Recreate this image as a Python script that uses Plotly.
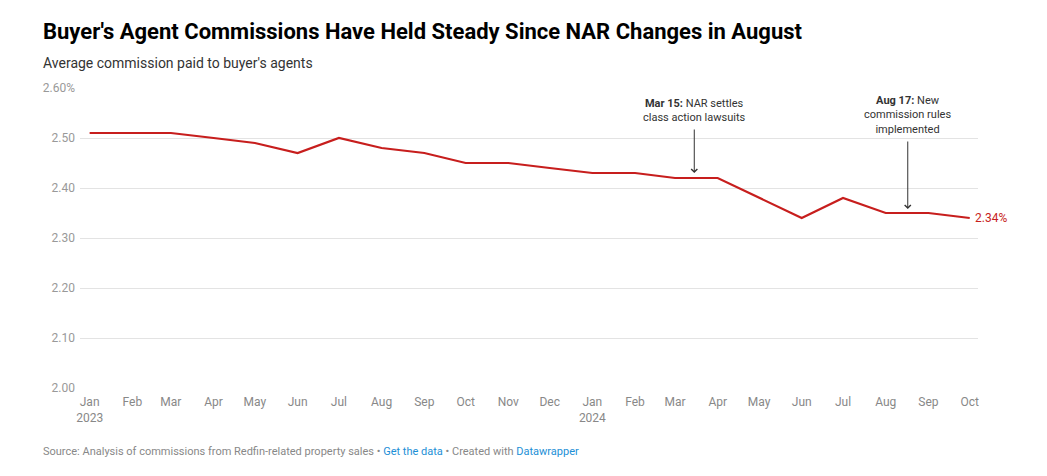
import plotly.graph_objects as go

months = ["2023-01-01","2023-02-01","2023-03-01","2023-04-01","2023-05-01","2023-06-01",
          "2023-07-01","2023-08-01","2023-09-01","2023-10-01","2023-11-01","2023-12-01",
          "2024-01-01","2024-02-01","2024-03-01","2024-04-01","2024-05-01","2024-06-01",
          "2024-07-01","2024-08-01","2024-09-01","2024-10-01"]
commission = [2.51, 2.51, 2.51, 2.50, 2.49, 2.47, 2.50, 2.48, 2.47, 2.45, 2.45, 2.44,
              2.43, 2.43, 2.42, 2.42, 2.38, 2.34, 2.38, 2.35, 2.35, 2.34]
tick_labels = ["Jan<br>2023","Feb","Mar","Apr","May","Jun","Jul","Aug","Sep","Oct","Nov","Dec",
               "Jan<br>2024","Feb","Mar","Apr","May","Jun","Jul","Aug","Sep","Oct"]
y_ticks = [2.00, 2.10, 2.20, 2.30, 2.40, 2.50, 2.60]
y_tick_text = ["2.00", "2.10", "2.20", "2.30", "2.40", "2.50", "2.60%"]

RED = "#c71e1d"
FONT = "Roboto"

fig = go.Figure()
fig.add_trace(go.Scatter(x=months, y=commission, mode="lines",
                         line=dict(color=RED, width=2.2), hoverinfo="x+y", showlegend=False))

OFF = 8  # browser body margin
W, H = 1047 - OFF, 476 - OFF
L, T = 80 - OFF, 88 - OFF
R = OFF + W - 978
B = OFF + H - 388
pw = W - L - R
ph = H - T - B

def px_x(px):
    return (px - OFF - L) / pw

def px_y(py):
    return (OFF + H - B - py) / ph

annotations = [
    dict(text="<b>Buyer's Agent Commissions Have Held Steady Since NAR Changes in August</b>",
         xref="paper", yref="paper", x=px_x(41), y=px_y(31), xanchor="left", yanchor="middle",
         showarrow=False, font=dict(family=FONT, size=22, color="#000")),
    dict(text="Average commission paid to buyer's agents",
         xref="paper", yref="paper", x=px_x(41), y=px_y(63), xanchor="left", yanchor="middle",
         showarrow=False, font=dict(family=FONT, size=14, color="#333")),
    dict(text="Source: Analysis of commissions from Redfin-related property sales \u2022 "
              "<span style='color:#1d8fd6'>Get the data</span> \u2022 Created with "
              "<span style='color:#1d8fd6'>Datawrapper</span>",
         xref="paper", yref="paper", x=px_x(41), y=px_y(451), xanchor="left", yanchor="middle",
         showarrow=False, font=dict(family=FONT, size=11, color="#888")),
    # arrows
    dict(x="2024-03-15", y=2.43, xref="x", yref="y", ax=0, ay=-45,
         showarrow=True, arrowhead=4, arrowsize=1.2, arrowwidth=1, arrowcolor="#333", text=""),
    dict(x="2024-08-17", y=2.358, xref="x", yref="y", ax=0, ay=-69,
         showarrow=True, arrowhead=4, arrowsize=1.2, arrowwidth=1, arrowcolor="#333", text=""),
    dict(text="<b>Mar 15:</b> NAR settles<br>class action lawsuits",
         x="2024-03-15", y=2.556, xref="x", yref="y", xanchor="center", yanchor="middle",
         showarrow=False, align="center", font=dict(family=FONT, size=11, color="#333")),
    dict(text="<b>Aug 17:</b> New<br>commission rules<br>implemented",
         x="2024-08-17", y=2.546, xref="x", yref="y", xanchor="center", yanchor="middle",
         showarrow=False, align="center", font=dict(family=FONT, size=11, color="#333")),
    dict(text="2.34%", x=months[-1], y=commission[-1], xref="x", yref="y",
         xanchor="left", yanchor="middle", xshift=3, showarrow=False,
         font=dict(family=FONT, size=12, color=RED)),
]

fig.update_layout(
    width=W, height=H,
    margin=dict(l=L, r=R, t=T, b=B),
    paper_bgcolor="white", plot_bgcolor="white",
    font=dict(family=FONT, color="#888"),
    annotations=annotations,
    xaxis=dict(type="date", range=["2022-12-25", "2024-10-07"],
               tickvals=months, ticktext=tick_labels, showgrid=False, zeroline=False,
               showline=False, ticks="", ticklabelstandoff=5,
               tickfont=dict(family=FONT, size=12, color="#888"),
               fixedrange=True),
    yaxis=dict(range=[2.0, 2.6], tickvals=y_ticks, ticktext=y_tick_text,
               showgrid=True, gridcolor="#e3e3e3", gridwidth=1, zeroline=False,
               showline=False, ticks="", ticklabelstandoff=4,
               tickfont=dict(family=FONT, size=12, color="#999"), fixedrange=True),
)

fig.write_html("out.html")
